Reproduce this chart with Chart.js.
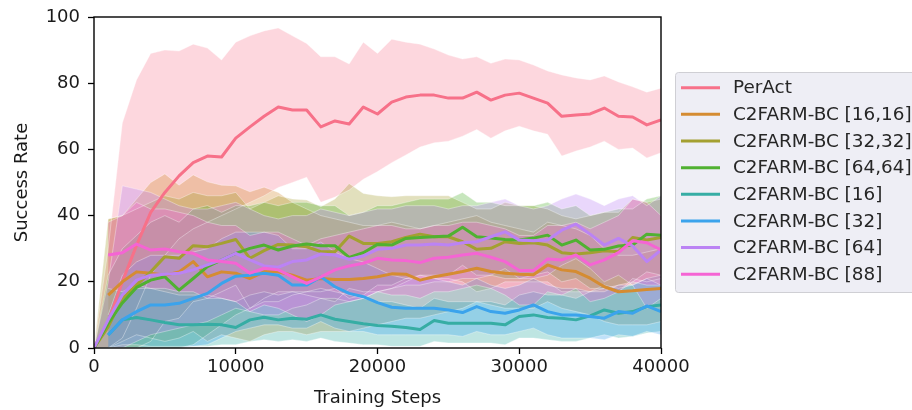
<!DOCTYPE html>
<html>
<head>
<meta charset="utf-8">
<script src="https://cdn.jsdelivr.net/npm/chart.js@4.4.1/dist/chart.umd.min.js"></script>
<style>
html,body{margin:0;padding:0;background:#fff;}
canvas{display:block;}
</style>
</head>
<body>
<canvas id="c" width="912" height="410"></canvas>
<script>
// ---------------- DATA ----------------
const steps = [0,1000,2000,3000,4000,5000,6000,7000,8000,9000,10000,11000,12000,13000,14000,15000,16000,17000,18000,19000,20000,21000,22000,23000,24000,25000,26000,27000,28000,29000,30000,31000,32000,33000,34000,35000,36000,37000,38000,39000,40000];

const seriesNames = ["PerAct","C2FARM-BC [16,16]","C2FARM-BC [32,32]","C2FARM-BC [64,64]","C2FARM-BC [16]","C2FARM-BC [32]","C2FARM-BC [64]","C2FARM-BC [88]"];
const seriesColors = ["#f77189","#d58c32","#a4a031","#50b131","#36ada4","#3ba3ec","#bb83f4","#f564d4"];

const xTicks = [0,10000,20000,30000,40000];
const yTicks = [0,20,40,60,80,100];

// PerAct
const perActMean  = [0,8,20,31,41,47,52,56,58,57.7,63.4,66.8,70,72.8,71.9,71.9,66.8,68.6,67.7,72.8,70.7,74.3,75.8,76.4,76.4,75.5,75.5,77.3,74.9,76.4,77,75.5,74,70,70.4,70.7,72.5,70,69.8,67.4,68.9];
const perActUpper = [0,30,68,81,89,90,89.7,91.8,90.6,87,92.4,94.3,95.8,96.7,94.3,92,88,88,85.8,92.4,89,93.3,92.4,91.8,90.3,88.5,87.3,88,86,87.3,87,85.5,83.7,82.5,81.6,81,82.2,80.4,78.9,77.3,78.5];
const perActLower = [0,0,3,12,22,28,33,36,38,40,42,44,46,48.5,50,51.6,44,45.6,47.7,51,53.3,56,58.3,60.7,62,62.5,64,66,63.4,65.6,67,65.6,64.6,58,59.5,60.7,62.5,60,60.4,57.4,59];

// C2FARM-BC [16,16]
const c1616Mean  = [null,16,20,23,22.6,22,23,26.1,21.5,23,22.6,21,23,23,22,20.5,21,20.7,20.7,21,21.5,22.4,22.3,20.5,21.5,22.3,23.1,24.1,23.1,22.6,22.3,22.1,25.1,23.6,23.1,21.1,18.5,17,17.3,17.7,18];
const c1616Upper = [null,39,40,45,50,52.6,49.2,52.3,50.2,49.2,49,47.2,48.6,47,44,42,40,39,38,37,37,38,37,36,37,38,39,40,38,37,36,35,38,37,36,34,30,28,28,29,30];
const c1616Lower = [null,0,2,4,3,2,3,5,2,4,3,2,4,5,5,4,5,5,5,6,7,8,9,9,10,11,12,14,13,12,12,12,14,12,11,10,8,7,7,7,8];

// C2FARM-BC [32,32]
const c3232Mean  = [0,6.4,15,19,23,27.6,27.1,30.9,30.6,31.6,32.8,27.1,29.4,31.3,31.1,30.6,29.1,29.1,33.8,31.6,31.6,32.1,33.4,34.4,33.6,33.6,32.1,29.8,30.1,32.1,31.6,31.8,31.1,28.8,28.4,28.8,29.4,29.1,33.4,32.6,33.4];
const c3232Upper = [0,39,40,42,44,46,45,47,46,46,47,42,44,46,45,44.7,42.7,45,49.7,46.7,46,45.7,46,46,46,46,44,42,42,44,43,43,42,40,39,40,41,41,45,44,45];
const c3232Lower = [0,0,0,0,2,8,9,14,15,17,19,12,15,17,17,16,15,14,18,17,17,18,20,22,21,21,20,17,18,20,20,20,20,17,17,17,18,17,21,20,21];

// C2FARM-BC [64,64]
const c6464Mean  = [0,7.5,13.6,18.3,20.5,21.5,17.5,21,24.6,26.6,28.6,30.1,31.1,29.6,30.8,31.4,30.9,30.9,27.4,28.8,31.3,31.1,33.1,33.4,33.6,33.8,36.5,33.6,33.2,32.8,32.6,33.2,34.1,31.1,32.6,29.6,29.8,30.8,31.1,34.4,34.1];
const c6464Upper = [0,22,30,34,38,40,38,42,43,41,43,43,44,43,44,44,43,43,40,41,43,43,44,45,45,45,47,44,44,43,43,43,44,42,43,40,41,42,42,45,46];
const c6464Lower = [0,0,0,0,0,0,0,1,4,7,10,12,14,14,16,17,17,18,15,16,19,19,21,22,22,22,25,22,22,21,21,22,23,20,21,18,18,19,20,23,22];

// C2FARM-BC [16]
const c16Mean  = [null,3.9,8.5,9.2,8.5,7.7,7,7,7.2,7,6.2,8.5,9.3,8.5,9,8.7,10,8.7,8,7.3,6.8,6.6,6.2,5.6,8.3,7.5,7.5,7.5,7.5,7,9.5,10,9.2,9,8.5,9.7,11.5,10.5,11,12.5,13];
const c16Upper = [null,8,16,18,18,17,16,16,16,15,14,16,17,16,17,17,18,17,16,15,14,14,13,12,15,14,14,14,14,13,16,17,16,16,15,17,19,18,19,21,22];
const c16Lower = [null,0,1,1,0.5,0.5,0.5,0.5,0.5,1,1,2,2.5,2,2.5,2,3,2,1.5,1,1,0.5,0.5,0.5,2,1.5,1.5,1.5,1.5,1,3,3,2.5,2,2,3,4,3,3.5,4.5,5];

// C2FARM-BC [32]
const c32Mean  = [null,3.9,8.5,11,13,13,13.5,15,16.5,19.5,21.7,22,22.6,22,19,19,21.5,18.5,16.5,15.5,13.7,12.3,12,12,12,11.5,10.7,12.5,11,10.5,11.5,13,11,10,10,9.5,9,11,10.5,12.7,11];
const c32Upper = [null,10,22,26,28,28,28,29,30,33,35,35,35,34,30,30,32,29,27,26,24,22,21,21,21,20,19,21,19,18,19,21,19,18,18,17,17,19,19,21,19];
const c32Lower = [null,0,0,0,0,0,0,0.5,1,3,5,6,7,7,6,6,8,6,5,5,4,4,4,4,4,4,3.5,5,4,4,5,6,4,3,3,3,2.5,4,3.5,5,4];

// C2FARM-BC [64]
const c64Mean  = [0,8.5,16,20.5,22,22.3,22.6,23.6,25.1,26.6,28.6,26.6,24.8,24.4,26.1,26.6,28.4,28.1,26.8,27.8,29.8,30.1,31.1,31.1,31.4,31.1,31.8,32.1,33.6,35.1,32.6,32.4,32.6,35.6,37.4,34.4,31.1,33.1,30.8,26.1,29.6];
const c64Upper = [0,20,49,48,47,45,43,42,42,43,44,42,40,39,40,40,42,41,40,41,42,42,43,43,43,42,43,43,44,45,43,42,43,45,46.5,45,43,45,46,43,46];
const c64Lower = [0,0,0,2,4,5,6,7,8,10,12,11,10,10,12,13,15,15,14,15,17,18,19,19,20,20,21,21,22,24,21,21,22,25,27,24,20,22,19,12,15];

// C2FARM-BC [88]
const c88Mean  = [null,28.1,28.8,31.4,29.6,29.9,29.1,28.6,26.6,26.1,25.6,22.6,24.1,23.6,21.5,19.5,21.5,23.6,24.8,25.6,27.1,26.6,26.4,25.8,27.1,27.4,28.1,28.6,27.4,26.1,23.4,23.4,26.9,26.6,28.1,25.1,26.6,28.8,32.4,31.8,29.6];
const c88Upper = [null,38,40,44,42,42,41,40,38,37,37,34,35,35,33,31,33,34,35,36,37,37,36,36,37,37,38,38,37,36,34,34,37,37,38,36,38,40,45,44,40];
const c88Lower = [null,18,17,19,18,18,17,17,15,15,14,11,13,12,10,8,10,13,14,15,17,16,16,15,17,17,18,19,18,16,13,13,17,16,18,14,15,17,20,19,19];

const means  = [perActMean, c1616Mean, c3232Mean, c6464Mean, c16Mean, c32Mean, c64Mean, c88Mean];
const uppers = [perActUpper, c1616Upper, c3232Upper, c6464Upper, c16Upper, c32Upper, c64Upper, c88Upper];
const lowers = [perActLower, c1616Lower, c3232Lower, c6464Lower, c16Lower, c32Lower, c64Lower, c88Lower];

// ---------------- BUILD ----------------
const FONT = "'DejaVu Sans', 'Liberation Sans', sans-serif";
function rgba(hex, a){
  const r=parseInt(hex.slice(1,3),16), g=parseInt(hex.slice(3,5),16), b=parseInt(hex.slice(5,7),16);
  return `rgba(${r},${g},${b},${a})`;
}
function pts(arr){ return steps.map((s,i)=>({x:s, y:arr[i]})); }

const datasets = [];
seriesNames.forEach((name,i)=>{
  datasets.push({
    label: name+' upper', data: pts(uppers[i]),
    borderColor: 'rgba(255,255,255,0.35)', borderWidth: 1, pointRadius: 0,
    fill: false, tension: 0, order: 300 - i*2
  });
  datasets.push({
    label: name+' lower', data: pts(lowers[i]),
    borderColor: 'rgba(255,255,255,0.35)', borderWidth: 1, pointRadius: 0,
    fill: '-1', backgroundColor: rgba(seriesColors[i], i === 0 ? 0.28 : 0.32), tension: 0, order: 299 - i*2
  });
});
seriesNames.forEach((name,i)=>{
  datasets.push({
    label: name, data: pts(means[i]),
    borderColor: seriesColors[i], borderWidth: 3, pointRadius: 0,
    fill: false, tension: 0, order: 100 - i,
    borderJoinStyle: 'round', borderCapStyle: 'butt'
  });
});

const framePlugin = {
  id: 'frame',
  afterDraw(chart){
    const {ctx, chartArea:a} = chart;
    ctx.save();
    ctx.strokeStyle = '#000';
    ctx.lineWidth = 1.4;
    ctx.strokeRect(a.left, a.top, a.right - a.left, a.bottom - a.top);
    ctx.restore();

    // legend
    const lx = 675.5, ly = 72.5, lw = 260, lh = 220;
    ctx.save();
    ctx.beginPath();
    const r = 3;
    ctx.moveTo(lx+r, ly);
    ctx.lineTo(lx+lw-r, ly);
    ctx.quadraticCurveTo(lx+lw, ly, lx+lw, ly+r);
    ctx.lineTo(lx+lw, ly+lh-r);
    ctx.quadraticCurveTo(lx+lw, ly+lh, lx+lw-r, ly+lh);
    ctx.lineTo(lx+r, ly+lh);
    ctx.quadraticCurveTo(lx, ly+lh, lx, ly+lh-r);
    ctx.lineTo(lx, ly+r);
    ctx.quadraticCurveTo(lx, ly, lx+r, ly);
    ctx.closePath();
    ctx.fillStyle = 'rgba(234,234,242,0.8)';
    ctx.fill();
    ctx.strokeStyle = '#cfcfd4';
    ctx.lineWidth = 1;
    ctx.stroke();
    ctx.font = '18.4px ' + FONT;
    ctx.textBaseline = 'middle';
    ctx.textAlign = 'left';
    seriesNames.forEach((name,i)=>{
      const y = 87.7 + i*26.65;
      ctx.strokeStyle = seriesColors[i];
      ctx.lineWidth = 3;
      ctx.beginPath();
      ctx.moveTo(681, y);
      ctx.lineTo(720, y);
      ctx.stroke();
      ctx.fillStyle = '#262626';
      ctx.fillText(name, 733, y+1);
    });
    ctx.restore();
  }
};

new Chart(document.getElementById('c'), {
  type: 'line',
  data: { datasets },
  options: {
    responsive: false,
    animation: false,
    devicePixelRatio: 1,
    layout: { padding: { top: 17, right: 251, bottom: 0, left: 0 } },
    plugins: {
      legend: { display: false },
      tooltip: { enabled: false },
      filler: { drawTime: 'beforeDatasetsDraw', propagate: false }
    },
    elements: { line: { spanGaps: true } },
    scales: {
      x: {
        type: 'linear', min: 0, max: 40000,
        afterBuildTicks(s){ s.ticks = xTicks.map(v=>({value:v})); },
        afterFit(s){ s.height = 62; s.paddingLeft = 0; s.paddingRight = 0; },
        border: { display: false },
        grid: { drawOnChartArea: false, drawTicks: true, tickLength: 6, tickColor: '#000', tickWidth: 1.3, color: 'rgba(0,0,0,0)' },
        ticks: { color: '#1a1a1a', font: { family: FONT, size: 18 }, padding: 3, maxRotation: 0, autoSkip: false,
                 callback: v => String(v) },
        title: { display: true, text: 'Training Steps', color: '#1a1a1a', font: { family: FONT, size: 18 }, padding: { top: 0, bottom: 1 } }
      },
      y: {
        type: 'linear', min: 0, max: 100,
        afterBuildTicks(s){ s.ticks = yTicks.map(v=>({value:v})); },
        afterFit(s){ s.width = 94; s.paddingTop = 0; s.paddingBottom = 0; },
        border: { display: false },
        grid: { drawOnChartArea: false, drawTicks: true, tickLength: 6, tickColor: '#000', tickWidth: 1.3, color: 'rgba(0,0,0,0)' },
        ticks: { color: '#1a1a1a', font: { family: FONT, size: 18 }, padding: 8, autoSkip: false,
                 callback: v => String(v) },
        title: { display: true, text: 'Success Rate', color: '#1a1a1a', font: { family: FONT, size: 18 }, padding: { top: 12, bottom: 0 } }
      }
    }
  },
  plugins: [framePlugin]
});
</script>
</body>
</html>
